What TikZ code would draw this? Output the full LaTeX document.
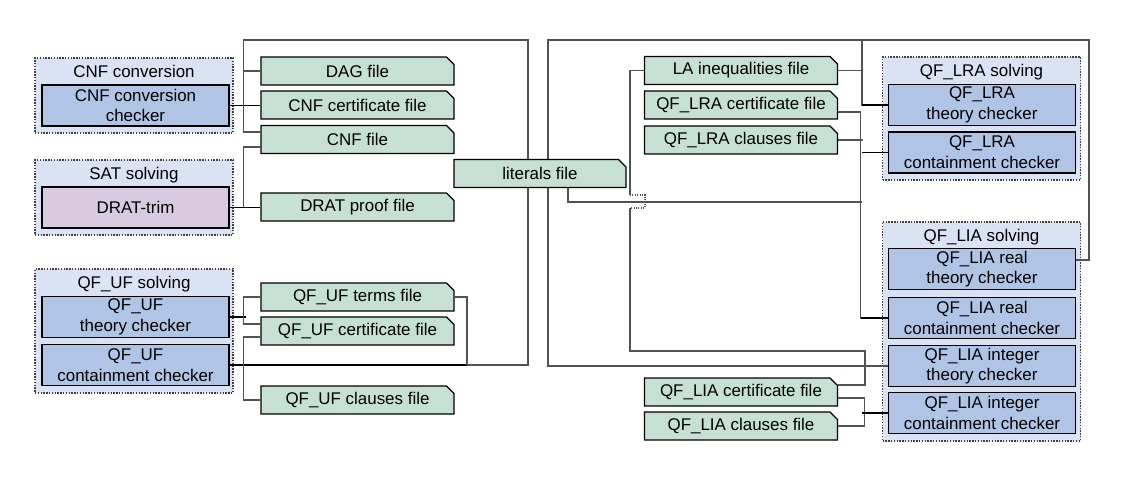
\documentclass[tikz,border=0pt]{standalone}
\usepackage{fontspec}
\setmainfont{Liberation Sans}
\usetikzlibrary{calc, positioning, shapes.misc}

\definecolor{groupblue}{RGB}{218,227,243}
\definecolor{checkblue}{RGB}{176,197,230}
\definecolor{filegreen}{RGB}{198,225,211}
\definecolor{dratpink}{RGB}{216,203,224}

\pgfdeclarelayer{groups}
\pgfdeclarelayer{wires}
\pgfsetlayers{groups,wires,main}

\tikzset{
    group/.style={draw=black!75, densely dotted, line width=1.1pt, fill=groupblue,
        minimum width=148.5pt, inner sep=0pt},
    grouptitle/.style={anchor=base, inner sep=0pt},
    checker/.style={draw=black, line width=1.1pt, fill=checkblue, align=center,
        minimum width=140.5pt, minimum height=30.75pt, inner sep=0pt},
    file/.style={chamfered rectangle, chamfered rectangle corners=north east,
        chamfered rectangle xsep=2.8pt, chamfered rectangle ysep=2.8pt,
        draw=black, line width=1pt, fill=filegreen,
        minimum width=144.75pt, minimum height=21pt, inner sep=0pt},
    bus/.style={black!68, line width=0.8pt},
    link/.style={black, line width=1pt},
}

\begin{document}
\begin{tikzpicture}[x=0.75pt, y=-0.75pt, font=\fontsize{12.7}{15.5}\selectfont]

    \useasboundingbox (0,0) rectangle (1132,488);

    % ==========================================
    % GROUPS (dotted frames)
    % ==========================================
    \begin{pgfonlayer}{groups}
        \node[group, minimum height=56.25pt] (cnfgrp) at (134,95.5) {};
        \node[group, minimum height=56.25pt] (satgrp) at (134,197.5) {};
        \node[group, minimum height=93pt]    (ufgrp)  at (134,331) {};
        \node[group, minimum height=92.25pt] (lragrp) at (981.5,118.5) {};
        \node[group, minimum height=164.25pt] (liagrp) at (981.5,331.5) {};
    \end{pgfonlayer}

    \node[grouptitle] (cnftitle) at ($(cnfgrp.north)+(0,20.5)$) {CNF conversion};
    \node[grouptitle] (sattitle) at ($(satgrp.north)+(0,20.5)$) {SAT solving};
    \node[grouptitle] (uftitle)  at ($(ufgrp.north)+(0,20.5)$)  {QF\_UF solving};
    \node[grouptitle] (lratitle) at ($(lragrp.north)+(0,20.5)$) {QF\_LRA solving};
    \node[grouptitle] (liatitle) at ($(liagrp.north)+(0,20.5)$) {QF\_LIA solving};

    % ==========================================
    % CHECKERS
    % ==========================================
    \node[checker] (cnfchk) at (135.5,105.5) {CNF conversion\\checker};
    \node[checker, fill=dratpink] (drat) at (135.5,207.5) {DRAT-trim};
    \node[checker] (ufthy)  at (135.5,317) {QF\_UF\\theory checker};
    \node[checker] (ufcont) at (135.5,365) {QF\_UF\\containment checker};

    \node[checker] (lrathy)   at (982,105)   {QF\_LRA\\theory checker};
    \node[checker] (lracont)  at (982,152.5) {QF\_LRA\\containment checker};
    \node[checker] (liarthy)  at (982,269)   {QF\_LIA real\\theory checker};
    \node[checker] (liarcont) at (982,318)   {QF\_LIA real\\containment checker};
    \node[checker] (liaithy)  at (982,366)   {QF\_LIA integer\\theory checker};
    \node[checker] (liaicont) at (982,413)   {QF\_LIA integer\\containment checker};

    % ==========================================
    % FILES
    % ==========================================
    \node[file] (dag)       at (357.5,71)    {DAG file};
    \node[file] (cnfcert)   at (357.5,105)   {CNF certificate file};
    \node[file] (cnffile)   at (357.5,139.5) {CNF file};
    \node[file] (dratproof) at (357.5,207)   {DRAT proof file};
    \node[file] (ufterms)   at (357.5,297)   {QF\_UF terms file};
    \node[file] (ufcert)    at (357.5,331)   {QF\_UF certificate file};
    \node[file] (ufclauses) at (357.5,400)   {QF\_UF clauses file};

    \node[file, minimum width=129pt] (literals) at (540,173.5) {literals file};

    \node[file] (laineq)     at (741,70.5) {LA inequalities file};
    \node[file] (lracert)    at (741,105)  {QF\_LRA certificate file};
    \node[file] (lraclauses) at (741,140)  {QF\_LRA clauses file};
    \node[file] (liacert)    at (741,392)  {QF\_LIA certificate file};
    \node[file] (liaclauses) at (741,426)  {QF\_LIA clauses file};

    % ==========================================
    % WIRES
    % ==========================================
    \coordinate (lefttop)  at (528,40);
    \coordinate (ufjoin)   at (467,365);
    \coordinate (righttop) at (1089,40);
    \coordinate (rightleft) at (548,40);
    \coordinate (lrajoin)  at (862,40);
    \coordinate (litjoin)  at (862,202);
    \coordinate (hopup)    at (630,195);
    \coordinate (hopdown)  at (630,208);
    \coordinate (liabend)  at (865,351);

    \begin{pgfonlayer}{wires}
        % left half
        \draw[link] (cnfchk.east) -- (cnfchk.east -| cnfcert.west);
        \draw[link] (ufcont.east) -- (ufjoin);
        \draw[bus] (ufjoin) -| (lefttop) -| ($(cnffile.west)+(-17,-7.5)$) -- ($(cnffile.west)+(0,-7.5)$);
        \draw[bus] (dag.west) -- ++(-17,0);
        \draw[bus] (ufterms.east) -| (ufjoin);
        \draw[link] (drat.east) -- (drat.east -| dratproof.west);
        \draw[bus] ($(dratproof.west)+(-17,0)$) |- ($(cnffile.west)+(0,7.5)$);
        \draw[link] (ufthy.east) -- ++(16,0);
        \draw[bus] (ufterms.west) -- ++(-17,0) |- ($(ufcert.west)+(0,-7)$);
        \draw[bus] ($(ufcert.west)+(0,6)$) -| ($(ufclauses.west)+(-17,0)$) -- (ufclauses.west);

        % right half
        \draw[bus] ($(liarthy.east)+(0,-9)$) -| (righttop) -- (rightleft) |- (liaithy.west);
        \draw[bus] (laineq.east) -- (laineq.east -| lrajoin);
        \draw[bus] (lrajoin) |- (lrathy.west);
        \draw[link] (lrathy.west) -- ++(-26,0);
        \draw[bus] ($(lracert.east)+(0,7)$) -| ($(liarcont.west)+(-27,0)$) -- (liarcont.west);
        \draw[link] (liarcont.west) -- ++(-27,0);
        \draw[bus] (lraclauses.east) -- ++(24.5,0);
        \draw[link] (lracont.west) -- ++(-26,0);
        \draw[bus] ($(literals.south)+(28,0)$) |- (litjoin);

        \draw[bus] (laineq.west) -| (hopup);
        \draw[bus, densely dotted] (hopup) -- ++(15,0) |- (hopdown);
        \draw[bus] (hopdown) |- (liabend) |- ($(liacert.east)+(0,-7)$);
        \draw[bus] ($(liacert.east)+(0,6)$) -| ($(liaclauses.east)+(26,0)$) -- (liaclauses.east);
        \draw[link] (liaicont.west) -- ++(-26,0);
    \end{pgfonlayer}

\end{tikzpicture}
\end{document}
